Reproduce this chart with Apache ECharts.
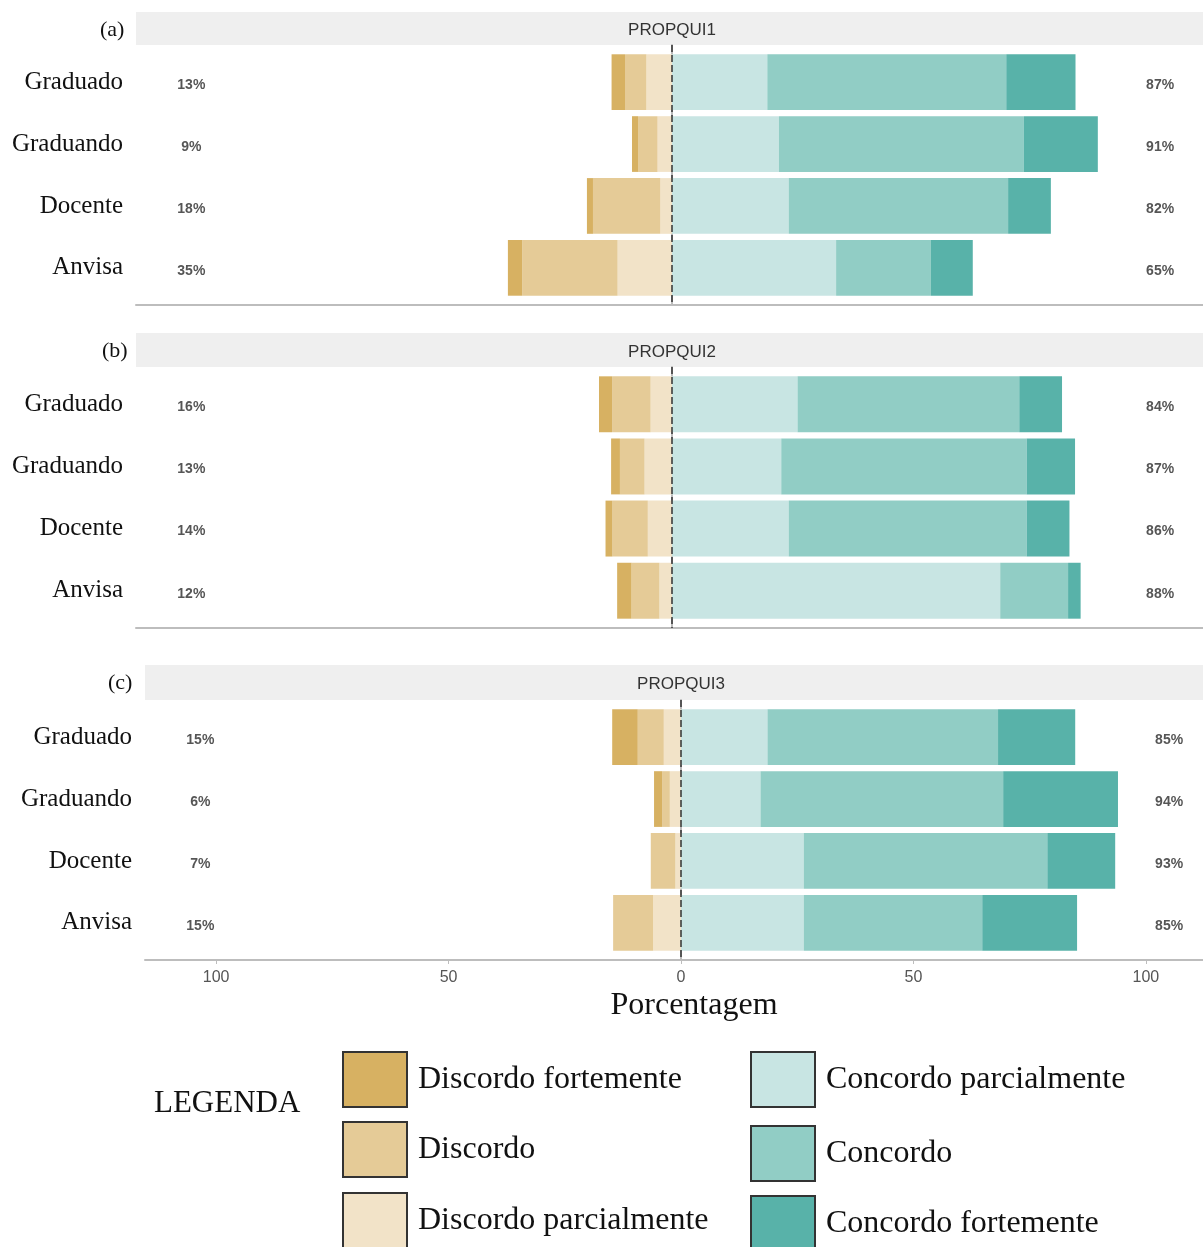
<!DOCTYPE html>
<html>
<head>
<meta charset="utf-8">
<script src="https://cdn.jsdelivr.net/npm/echarts@6/dist/echarts.min.js"></script>
<style>
  html, body { margin: 0; padding: 0; background: #fff; }
  #chart { width: 1203px; height: 1247px; }
</style>
</head>
<body>
<div id="chart"></div>
<script>
// categories (top to bottom)
var groups = ["Graduado", "Graduando", "Docente", "Anvisa"];
var panels = ["PROPQUI1", "PROPQUI2", "PROPQUI3"];
var panelTags = ["(a)", "(b)", "(c)"];
var levels = ["Discordo fortemente", "Discordo", "Discordo parcialmente",
              "Concordo parcialmente", "Concordo", "Concordo fortemente"];
var colors = ["#d7b162", "#e5cb97", "#f2e3c8", "#c8e5e3", "#91cdc5", "#58b2a9"];

// percentages per panel, one value per group
var discFortemente = [[2.9, 1.3, 1.3, 3.1], [2.8, 1.9, 1.5, 3.1], [5.5, 1.8, 0, 0]];
var discordo       = [[4.6, 4.2, 14.5, 20.5], [8.3, 5.3, 7.6, 6.0], [5.6, 1.6, 5.3, 8.6]];
var discParcial    = [[5.5, 3.1, 2.5, 11.7], [4.6, 5.9, 5.2, 2.7], [3.7, 2.4, 1.2, 6.0]];
var concParcial    = [[20.5, 23.0, 25.1, 35.3], [27.0, 23.5, 25.1, 70.6], [18.6, 17.1, 26.4, 26.4]];
var concordo       = [[51.4, 52.7, 47.2, 20.4], [47.7, 52.8, 51.2, 14.6], [49.6, 52.2, 52.4, 38.4]];
var concFortemente = [[14.9, 15.9, 9.2, 9.0], [9.2, 10.4, 9.2, 2.7], [16.6, 24.7, 14.6, 20.4]];

// printed totals
var pctLeft  = [[13, 9, 18, 35], [16, 13, 14, 12], [15, 6, 7, 15]];
var pctRight = [[87, 91, 82, 65], [84, 87, 86, 88], [85, 94, 93, 85]];

var xTicks = [-100, -50, 0, 50, 100];

// layout
var panelTop = [45, 367, 700];
var panelHeight = [260, 261, 260];
var stripTop = [12, 333, 665];
var panelLeft = [136, 136, 145];
var tagLeft = [100, 102, 108];
var panelWidth = 1072;
var xMin = -115.3, xMax = 115.3;
var legendLeft = [342, 342, 342, 750, 750, 750];
var legendTop = [1051, 1121, 1192, 1051, 1125, 1195];
var serif = "'Liberation Serif', 'Times New Roman', serif";
var sans = "'Liberation Sans', Arial, sans-serif";

var chart = echarts.init(document.getElementById("chart"));

var grid = [], xAxis = [], yAxis = [], series = [], graphic = [];

panels.forEach(function (p, k) {
  var unit = panelHeight[k] / 4.2;
  // frame grid: axis lines, zero line, totals
  grid.push({ left: panelLeft[k], top: panelTop[k], width: panelWidth, height: panelHeight[k], outerBoundsMode: "none" });
  // bar grid: category bands
  grid.push({ left: panelLeft[k], top: panelTop[k] + 0.1 * unit, width: panelWidth, height: 4 * unit, outerBoundsMode: "none" });

  var last = k === panels.length - 1;
  xAxis.push({
    gridIndex: 2 * k, type: "value", min: xMin, max: xMax,
    axisLine: { show: true, lineStyle: { color: "#bdbdbd", width: 2 } },
    axisTick: { show: last, customValues: xTicks, length: 4, lineStyle: { color: "#bdbdbd" } },
    axisLabel: {
      show: last, customValues: xTicks, color: "#555", fontSize: 16, fontFamily: sans, margin: 10,
      formatter: function (v) { return Math.abs(v); }
    },
    splitLine: { show: false }
  });
  xAxis.push({ gridIndex: 2 * k + 1, type: "value", min: xMin, max: xMax, show: false });

  yAxis.push({
    gridIndex: 2 * k, type: "value", min: 0.4, max: 4.6, inverse: true,
    axisLine: { show: true, lineStyle: { color: "#bdbdbd", width: 2 } },
    axisTick: { show: false }, axisLabel: { show: false }, splitLine: { show: false }
  });
  yAxis.push({
    gridIndex: 2 * k + 1, type: "category", data: groups, inverse: true,
    axisLine: { show: false },
    axisTick: { show: true, length: 4, alignWithLabel: true, lineStyle: { color: "#bdbdbd" } },
    axisLabel: { color: "#111", fontSize: 25, fontFamily: serif, margin: 13, padding: [6, 0, 0, 0] }
  });

  // stacking order: inner negatives first, then positives
  var stackData = [
    [2, discParcial[k], -1], [1, discordo[k], -1], [0, discFortemente[k], -1],
    [3, concParcial[k], 1], [4, concordo[k], 1], [5, concFortemente[k], 1]
  ];
  stackData.forEach(function (s) {
    series.push({
      name: levels[s[0]], type: "bar", stack: "p" + k,
      xAxisIndex: 2 * k + 1, yAxisIndex: 2 * k + 1,
      barWidth: "90%",
      itemStyle: { color: colors[s[0]] },
      data: s[1].map(function (v) { return v * s[2]; })
    });
  });

  // totals on both sides + zero line
  var labelData = [];
  groups.forEach(function (g, i) {
    labelData.push({ value: [-103.4, i + 1], label: { formatter: pctLeft[k][i] + "%" } });
    labelData.push({ value: [105, i + 1], label: { formatter: pctRight[k][i] + "%" } });
  });
  series.push({
    type: "scatter", xAxisIndex: 2 * k, yAxisIndex: 2 * k, symbolSize: 0, silent: true,
    label: { show: true, position: "inside", offset: [0, 3], color: "#2a2a2a", fontSize: 14, fontWeight: "bold", fontFamily: sans },
    data: labelData,
    markLine: {
      silent: true, symbol: ["none", "none"],
      label: { show: false },
      lineStyle: { type: [7, 3], color: "#333", width: 1.5 },
      data: [{ xAxis: 0 }]
    }
  });

  // strip + titles
  graphic.push({
    type: "rect", left: panelLeft[k], top: stripTop[k],
    shape: { width: 1203 - panelLeft[k], height: panelTop[k] - stripTop[k] },
    style: { fill: "#efefef" }
  });
  graphic.push({
    type: "text", x: panelLeft[k] + 536, y: (stripTop[k] + panelTop[k]) / 2 + 2,
    style: { text: p, fill: "#333", font: "17px " + sans, textAlign: "center", textVerticalAlign: "middle" }
  });
  graphic.push({
    type: "text", x: tagLeft[k], y: stripTop[k] + 18,
    style: { text: panelTags[k], fill: "#111", font: "22px " + serif, textVerticalAlign: "middle" }
  });
});

graphic.push({
  type: "text", x: 694, y: 1006,
  style: { text: "Porcentagem", fill: "#111", font: "32px " + serif, textAlign: "center", textVerticalAlign: "middle" }
});
graphic.push({
  type: "text", x: 154, y: 1104,
  style: { text: "LEGENDA", fill: "#111", font: "31px " + serif, textVerticalAlign: "middle" }
});

// one legend per row so each row sits where the reference puts it
var legends = levels.map(function (name, i) {
  return {
    left: legendLeft[i], top: legendTop[i], padding: 0,
    icon: "rect", itemWidth: 64, itemHeight: 55,
    selectedMode: false,
    itemStyle: { borderColor: "#333", borderWidth: 2 },
    textStyle: { fontSize: 32, fontFamily: serif, color: "#111", padding: [3, 0, 0, 6] },
    data: [name]
  };
});

chart.setOption({
  animation: false,
  backgroundColor: "#fff",
  grid: grid,
  xAxis: xAxis,
  yAxis: yAxis,
  series: series,
  graphic: graphic,
  legend: legends
});
</script>
</body>
</html>
